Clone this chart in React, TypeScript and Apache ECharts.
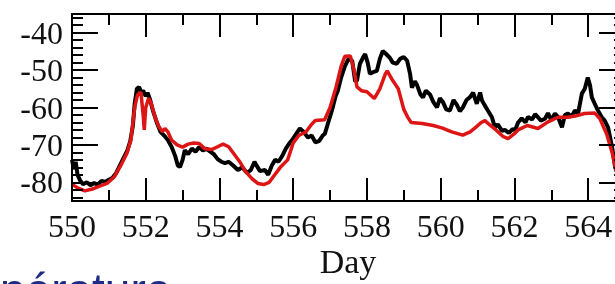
import React, { useEffect, useRef } from "react";
import * as echarts from "echarts";

// Black series (observed), days and temperature
const blackDays = [
  550.0, 550.05, 550.1, 550.15, 550.22, 550.3, 550.4, 550.5, 550.6, 550.7, 550.8, 550.9,
  551.0, 551.1, 551.2, 551.3, 551.4, 551.5, 551.58, 551.65, 551.7, 551.76, 551.82, 551.88,
  551.93, 552.0, 552.05, 552.12, 552.2, 552.3, 552.4, 552.5, 552.6, 552.7, 552.8, 552.87,
  552.93, 553.0, 553.06, 553.15, 553.25, 553.35, 553.45, 553.55, 553.65, 553.75, 553.85, 553.95,
  554.05, 554.15, 554.25, 554.37, 554.5, 554.62, 554.75, 554.85, 554.95, 555.0, 555.1, 555.23,
  555.32, 555.42, 555.51, 555.6, 555.7, 555.8, 555.9, 555.97, 556.05, 556.18, 556.28, 556.4,
  556.5, 556.6, 556.7, 556.8, 556.86, 556.95, 557.05, 557.15, 557.21, 557.3, 557.4, 557.5,
  557.6, 557.68, 557.73, 557.81, 557.9, 557.95, 558.02, 558.08, 558.18, 558.27, 558.35, 558.43,
  558.5, 558.62, 558.7, 558.81, 558.9, 559.0, 559.09, 559.17, 559.22, 559.3, 559.36, 559.45,
  559.52, 559.6, 559.71, 559.8, 559.9, 559.98, 560.06, 560.15, 560.25, 560.35, 560.44, 560.52,
  560.6, 560.7, 560.79, 560.88, 560.98, 561.07, 561.12, 561.2, 561.28, 561.39, 561.47, 561.55,
  561.66, 561.74, 561.85, 561.95, 562.02, 562.1, 562.2, 562.3, 562.37, 562.48, 562.56, 562.64,
  562.72, 562.83, 562.91, 563.0, 563.1, 563.18, 563.29, 563.37, 563.45, 563.55, 563.64, 563.73,
  563.83, 563.91, 563.99, 564.05, 564.1, 564.18, 564.25, 564.37, 564.45, 564.54, 564.65, 564.73,
  564.85, 565.0,
];
const blackTemp = [
  -74, -76.5, -74.5, -78, -79.5, -80.5, -80, -80.8, -80.2, -80.6, -79.6, -79.9,
  -79.3, -78.8, -77.5, -75.5, -73.5, -71.5, -69, -65, -59, -55, -54.5, -56,
  -55.5, -57, -56, -58, -61, -64, -66.5, -67.5, -68.7, -70.5, -73, -75.5,
  -75.9, -74, -71.4, -72.5, -71, -71.8, -70.6, -71.5, -71, -71.8, -72.5, -73.8,
  -74.5, -74.9, -74.5, -75.5, -76.7, -76, -77.5, -76.7, -74.5, -75.4, -77, -76.7,
  -78, -75.5, -74, -74.5, -73, -71, -69.5, -68.7, -67.5, -65.6, -66.5, -68,
  -67.5, -69.3, -69, -67.5, -67, -64, -60.8, -57, -55.5, -52, -49, -47,
  -47.5, -53, -52.8, -48.3, -46.5, -45.7, -48, -51, -50.5, -50.2, -47, -44.9,
  -45.5, -46.7, -48, -48.3, -47, -46.5, -47.5, -51, -54.7, -53, -54, -56.5,
  -57.3, -55.5, -56.5, -58.5, -60, -57.5, -58.5, -60.5, -60.8, -58, -59.3, -61,
  -60, -58, -57.3, -56, -59, -56, -58.1, -59.5, -60.8, -62.6, -65.3, -64.5,
  -66.2, -66, -66.8, -65.8, -66, -64, -62.9, -64, -62.5, -63.2, -61.8, -62.6,
  -63.5, -63, -61.5, -63.4, -61.6, -62.5, -65.3, -62, -61.6, -62.5, -60.8, -61.5,
  -56.3, -55, -52, -54, -57.3, -59, -60.5, -62.6, -63.5, -65.3, -70.6, -75.9,
  -79, -81,
];

// Red series (model), days and temperature
const redDays = [
  550.0, 550.15, 550.35, 550.55, 550.75, 550.95, 551.15, 551.35, 551.5, 551.6, 551.7, 551.78,
  551.87, 551.93, 551.96, 552.0, 552.08, 552.15, 552.25, 552.35, 552.45, 552.52, 552.6, 552.7,
  552.85, 553.0, 553.15, 553.3, 553.45, 553.6, 553.8, 553.95, 554.1, 554.25, 554.4, 554.55,
  554.7, 554.88, 555.04, 555.2, 555.35, 555.5, 555.65, 555.85, 556.0, 556.15, 556.35, 556.5,
  556.6, 556.85, 557.0, 557.15, 557.3, 557.4, 557.55, 557.65, 557.73, 557.85, 558.0, 558.2,
  558.35, 558.5, 558.55, 558.7, 558.85, 559.0, 559.1, 559.2, 559.5, 559.8, 560.05, 560.3,
  560.6, 560.8, 560.95, 561.1, 561.2, 561.35, 561.5, 561.7, 561.83, 562.0, 562.1, 562.35,
  562.64, 562.9, 563.18, 563.45, 563.65, 563.9, 564.18, 564.32, 564.5, 564.65, 564.75, 564.85,
  565.0,
];
const redTemp = [
  -80.5, -81.5, -82.3, -81.8, -81, -80.3, -78.5, -75, -72, -68.5, -60, -56.5,
  -56, -62, -66, -60, -57.5, -59, -62.5, -65, -66.5, -65.6, -66.5, -68.7,
  -70, -70.6, -69.8, -69.5, -69.6, -71, -71.2, -70.5, -69.8, -70.5, -72.5, -74.5,
  -77, -79, -80.3, -80.6, -80, -78, -76, -74, -69.5, -67.5, -66.5, -64.5,
  -63.5, -63.3, -60, -55, -49, -46.3, -46.2, -50, -54.5, -55.5, -55.8, -57.6,
  -55, -51, -50.2, -52.8, -55, -60.5, -62.5, -64, -64.3, -64.8, -65.5, -66.5,
  -67.4, -66.5, -65.3, -64, -63.5, -64.8, -66, -67.8, -68.3, -67, -66, -64.8,
  -65.6, -63.9, -62.6, -62.6, -62.3, -61.6, -61.5, -63, -67, -72, -76.5, -79,
  -81,
];

// Tick positions (axis values)
const xMajorTicks = [550, 552, 554, 556, 558, 560, 562, 564];
const xMinorTicks = [551, 553, 555, 557, 559, 561, 563];
const yMajorTicks = [-80, -70, -60, -50, -40];
const yMinorTicks = [-84, -82, -78, -76, -74, -72, -68, -66, -64, -62, -58, -56, -54, -52, -48, -46, -44, -42, -38, -36];

const X_MIN = 550;
const X_MAX = 565;
const Y_MIN = -85;
const Y_MAX = -35;

const xLabel = "Day";
const cornerText = "pérature";

const CHART_W = 640;
const CHART_H = 284;
const GRID_LEFT = 72;
const GRID_TOP = 14;
const GRID_RIGHT_EDGE = 625;
const GRID_BOTTOM_EDGE = 201;

export default function App() {
  const ref = useRef<HTMLDivElement>(null);
  useEffect(() => {
    if (!ref.current) return;
    const chart = echarts.init(ref.current, undefined, { renderer: "svg" });
    const serif = "Liberation Serif";
    const plotW = GRID_RIGHT_EDGE - GRID_LEFT;
    const plotH = GRID_BOTTOM_EDGE - GRID_TOP;
    // pixel lengths converted to axis units
    const yUnits = (px: number) => (px * (Y_MAX - Y_MIN)) / plotH;
    const xUnits = (px: number) => (px * (X_MAX - X_MIN)) / plotW;

    const xTickLines = (vals: number[], px: number) => {
      const h = yUnits(px);
      const out: any[] = [];
      vals.forEach((v) => {
        out.push({ coords: [[v, Y_MIN], [v, Y_MIN + h]] });
        out.push({ coords: [[v, Y_MAX], [v, Y_MAX - h]] });
      });
      return out;
    };
    const yTickLines = (vals: number[], px: number) => {
      const w = xUnits(px);
      const out: any[] = [];
      vals.forEach((v) => {
        out.push({ coords: [[X_MIN, v], [X_MIN + w, v]] });
        out.push({ coords: [[X_MAX, v], [X_MAX - w, v]] });
      });
      return out;
    };
    const tickData = [
      ...xTickLines(xMajorTicks, 23),
      ...xTickLines(xMinorTicks, 11),
      ...yTickLines(yMajorTicks, 26),
      ...yTickLines(yMinorTicks, 11),
    ];

    chart.setOption({
      animation: false,
      grid: {
        left: GRID_LEFT,
        top: GRID_TOP,
        right: CHART_W - GRID_RIGHT_EDGE,
        bottom: CHART_H - GRID_BOTTOM_EDGE,
      },
      xAxis: [
        {
          type: "value", min: X_MIN, max: X_MAX, interval: 2, position: "bottom",
          axisLine: { show: true, lineStyle: { color: "#000", width: 2 } },
          axisTick: { show: false },
          axisLabel: {
            fontFamily: serif, fontSize: 32, color: "#111", margin: 9,
            formatter: (v: number) => (v < X_MAX ? String(v) : ""),
          },
          splitLine: { show: false },
        },
        {
          type: "value", min: X_MIN, max: X_MAX, interval: 2, position: "top",
          axisLine: { show: true, lineStyle: { color: "#000", width: 2 } },
          axisTick: { show: false },
          axisLabel: { show: false },
          splitLine: { show: false },
        },
      ],
      yAxis: [
        {
          type: "value", min: Y_MIN, max: Y_MAX, position: "left",
          axisLine: { show: true, lineStyle: { color: "#000", width: 2 } },
          axisTick: { show: false },
          axisLabel: {
            fontFamily: serif, fontSize: 32, color: "#111", margin: 9,
            formatter: (v: number) => (v % 10 === 0 ? String(v) : ""),
          },
          splitLine: { show: false },
        },
        {
          type: "value", min: Y_MIN, max: Y_MAX, position: "right",
          axisLine: { show: true, lineStyle: { color: "#000", width: 2 } },
          axisTick: { show: false },
          axisLabel: { show: false },
          splitLine: { show: false },
        },
      ],
      series: [
        {
          type: "lines",
          coordinateSystem: "cartesian2d",
          xAxisIndex: 0,
          yAxisIndex: 0,
          silent: true,
          polyline: false,
          data: tickData,
          lineStyle: { color: "#000", width: 2, opacity: 1, curveness: 0 },
          effect: { show: false },
          z: 5,
        },
        {
          type: "line",
          xAxisIndex: 0,
          yAxisIndex: 0,
          data: blackDays.map((d, i) => [d, blackTemp[i]]),
          showSymbol: false,
          symbol: "none",
          lineStyle: { color: "#000", width: 4 },
          z: 3,
        },
        {
          type: "line",
          xAxisIndex: 0,
          yAxisIndex: 0,
          data: redDays.map((d, i) => [d, redTemp[i]]),
          showSymbol: false,
          symbol: "none",
          lineStyle: { color: "#dd1515", width: 3.5 },
          z: 4,
        },
      ],
      graphic: [
        {
          type: "text",
          x: 348,
          y: 261,
          style: {
            text: xLabel,
            fontFamily: serif,
            fontSize: 34,
            fill: "#111",
            align: "center",
            verticalAlign: "middle",
          },
        },
        {
          type: "text",
          x: 0,
          y: 290,
          style: {
            text: cornerText,
            fontFamily: "Liberation Sans",
            fontSize: 46,
            fill: "#1d2b85",
            align: "left",
            verticalAlign: "middle",
          },
        },
      ],
    });
    return () => chart.dispose();
  }, []);
  return (
    <div style={{ position: "fixed", left: 0, top: 0, width: CHART_W, height: CHART_H }}>
      <div ref={ref} style={{ width: CHART_W, height: CHART_H }} />
    </div>
  );
}
